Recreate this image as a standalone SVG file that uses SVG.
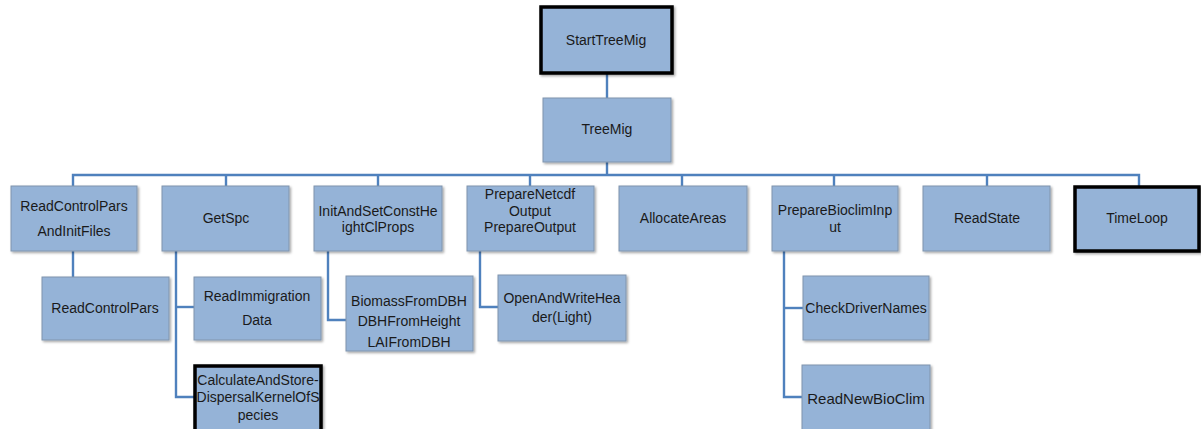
<svg xmlns="http://www.w3.org/2000/svg" width="1201" height="429" viewBox="0 0 1201 429">
  <style>
    .box { fill: #95b3d7; stroke: #8094ad; stroke-width: 1; filter: url(#shadow); }
    .bold { stroke: #000000; stroke-width: 3.5; }
    .lbl { font-family: "Liberation Sans", Arial, sans-serif; font-size: 14px; fill: #1a1a1a; text-anchor: middle; dominant-baseline: central; }
    .big { font-size: 15px; }
    .wire { fill: none; stroke: #4f81bd; stroke-width: 2.4; }
  </style>
  <defs>
    <filter id="shadow" x="-10%" y="-10%" width="130%" height="130%">
      <feDropShadow dx="1.5" dy="1.5" stdDeviation="1.2" flood-color="#000" flood-opacity="0.35"/>
    </filter>
  </defs>
  <rect width="1201" height="429" fill="#ffffff"/>

  <!-- connectors -->
  <g id="connectors">
    <path class="wire" d="M607,73 V98"/>
    <path class="wire" d="M607,162 V175"/>
    <path class="wire" d="M73,186 V175 H1139 V187"/>
    <path class="wire" d="M226,175 V186"/>
    <path class="wire" d="M378,175 V186"/>
    <path class="wire" d="M530,175 V186"/>
    <path class="wire" d="M682,175 V186"/>
    <path class="wire" d="M834,175 V186"/>
    <path class="wire" d="M987,175 V186"/>
    <!-- second level -->
    <path class="wire" d="M73,251 V307 H42"/>
    <path class="wire" d="M176,251 V397 H194"/>
    <path class="wire" d="M176,307 H194"/>
    <path class="wire" d="M328,251 V320 H346"/>
    <path class="wire" d="M480,251 V307 H498"/>
    <path class="wire" d="M784,251 V397 H802"/>
    <path class="wire" d="M784,308 H803"/>
  </g>

  <g id="StartTreeMig">
    <rect class="box bold" x="541" y="7" width="131" height="66"/>
    <text class="lbl" x="606" y="40">StartTreeMig</text>
  </g>
  <g id="TreeMig">
    <rect class="box" x="543" y="98" width="128" height="64"/>
    <text class="lbl" x="607" y="129">TreeMig</text>
  </g>

  <g id="ReadControlParsAndInitFiles">
    <rect class="box" x="11" y="186" width="126" height="65"/>
    <text class="lbl" x="74" y="206">ReadControlPars</text>
    <text class="lbl" x="74" y="231">AndInitFiles</text>
  </g>
  <g id="GetSpc">
    <rect class="box" x="162" y="186" width="127" height="65"/>
    <text class="lbl" x="226" y="218">GetSpc</text>
  </g>
  <g id="InitAndSetConstHeightClProps">
    <rect class="box" x="314" y="186" width="128" height="65"/>
    <text class="lbl" x="378" y="211">InitAndSetConstHe</text>
    <text class="lbl" x="378" y="227">ightClProps</text>
  </g>
  <g id="PrepareNetcdfOutput">
    <rect class="box" x="467" y="186" width="127" height="65"/>
    <text class="lbl" x="530" y="194">PrepareNetcdf</text>
    <text class="lbl" x="530" y="211">Output</text>
    <text class="lbl" x="530" y="227">PrepareOutput</text>
  </g>
  <g id="AllocateAreas">
    <rect class="box" x="619" y="186" width="128" height="65"/>
    <text class="lbl" x="683" y="218">AllocateAreas</text>
  </g>
  <g id="PrepareBioclimInput">
    <rect class="box" x="772" y="186" width="126" height="65"/>
    <text class="lbl" x="835" y="210">PrepareBioclimInp</text>
    <text class="lbl" x="835" y="227">ut</text>
  </g>
  <g id="ReadState">
    <rect class="box" x="923" y="186" width="127" height="65"/>
    <text class="lbl" x="987" y="218">ReadState</text>
  </g>
  <g id="TimeLoop">
    <rect class="box bold" x="1075" y="187" width="124" height="64"/>
    <text class="lbl" x="1137" y="218">TimeLoop</text>
  </g>

  <g id="ReadControlPars">
    <rect class="box" x="42" y="277" width="127" height="63"/>
    <text class="lbl" x="105" y="308">ReadControlPars</text>
  </g>
  <g id="ReadImmigrationData">
    <rect class="box" x="194" y="277" width="127" height="63"/>
    <text class="lbl" x="257" y="296">ReadImmigration</text>
    <text class="lbl" x="257" y="320">Data</text>
  </g>
  <g id="CalculateAndStoreDispersalKernelOfSpecies">
    <rect class="box bold" x="195" y="366" width="126" height="70"/>
    <text class="lbl" x="258" y="380">CalculateAndStore-</text>
    <text class="lbl" x="258" y="397">DispersalKernelOfS</text>
    <text class="lbl" x="258" y="415">pecies</text>
  </g>
  <g id="BiomassFromDBH">
    <rect class="box" x="346" y="276" width="127" height="75"/>
    <text class="lbl" x="409" y="301">BiomassFromDBH</text>
    <text class="lbl" x="409" y="321">DBHFromHeight</text>
    <text class="lbl" x="409" y="342">LAIFromDBH</text>
  </g>
  <g id="OpenAndWriteHeader">
    <rect class="box" x="498" y="275" width="128" height="66"/>
    <text class="lbl" x="562" y="298">OpenAndWriteHea</text>
    <text class="lbl" x="562" y="317">der(Light)</text>
  </g>
  <g id="CheckDriverNames">
    <rect class="box" x="803" y="276" width="126" height="64"/>
    <text class="lbl" x="866" y="308">CheckDriverNames</text>
  </g>
  <g id="ReadNewBioClim">
    <rect class="box" x="802" y="365" width="128" height="70"/>
    <text class="lbl big" x="866" y="398">ReadNewBioClim</text>
  </g>
</svg>
